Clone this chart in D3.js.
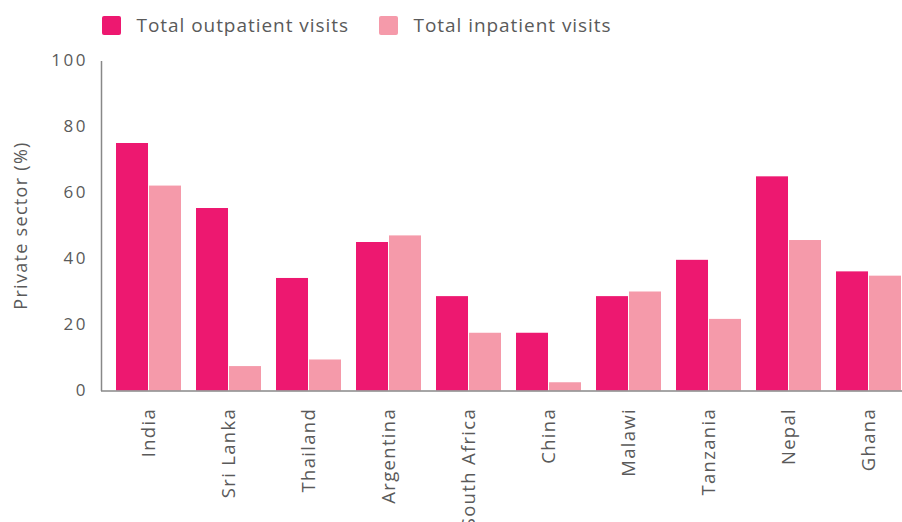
<!DOCTYPE html>
<html>
<head>
<meta charset="utf-8">
<script src="https://cdn.jsdelivr.net/npm/d3@7"></script>
<style>
  html, body { margin: 0; padding: 0; background: #fff; }
  svg { display: block; font-family: "Open Sans", sans-serif; }
</style>
</head>
<body>
<svg id="chart" width="902" height="522"></svg>
<script>
const countries = ["India", "Sri Lanka", "Thailand", "Argentina", "South Africa", "China", "Malawi", "Tanzania", "Nepal", "Ghana"];
const outpatient = [75.0, 55.3, 34.1, 45.0, 28.6, 17.5, 28.6, 39.6, 64.9, 36.1];
const inpatient = [62.1, 7.4, 9.4, 47.0, 17.5, 2.5, 30.0, 21.7, 45.6, 34.8];
const seriesNames = ["Total outpatient visits", "Total inpatient visits"];
const yTicks = [0, 20, 40, 60, 80, 100];
const colors = ["#ED1870", "#F59AAA"];
const textColor = "#5a5a5a";

const svg = d3.select("#chart");
const pLeft = 101, pRight = 901, pTop = 60.5, pBottom = 390.5;

const x0 = d3.scaleBand().domain(countries).range([pLeft, pRight])
  .paddingInner(0.1875).paddingOuter(0.09375).align(1);
const x1 = d3.scaleBand().domain([0, 1]).range([0, x0.bandwidth()]).paddingInner(0.03);
const y = d3.scaleLinear().domain([0, 100]).range([pBottom, pTop]);

const data = countries.map((c, i) => ({ c, vals: [outpatient[i], inpatient[i]] }));

const g = svg.append("g");
g.selectAll("g.grp").data(data).join("g").attr("class", "grp")
  .attr("transform", d => `translate(${x0(d.c)},0)`)
  .selectAll("rect").data(d => d.vals.map((v, k) => ({ v, k })))
  .join("rect")
  .attr("x", d => x1(d.k))
  .attr("width", x1.bandwidth())
  .attr("y", d => y(d.v))
  .attr("height", d => y(0) - y(d.v))
  .attr("fill", d => colors[d.k]);

// axes
const yAxis = svg.append("g").attr("transform", `translate(${pLeft},0)`)
  .call(d3.axisLeft(y).tickValues(yTicks).tickSize(0).tickPadding(13));
yAxis.select(".domain").attr("stroke", "#888").attr("stroke-width", 1.5);
yAxis.selectAll("text").attr("font-size", 17).attr("fill", textColor)
  .attr("letter-spacing", 2.5)
  .attr("font-family", "'Open Sans', sans-serif");

const xAxis = svg.append("g").attr("transform", `translate(0,${pBottom + 0.5})`)
  .call(d3.axisBottom(x0).tickSize(0).tickPadding(0));
xAxis.select(".domain").attr("d", `M${pLeft},0H902`).attr("stroke", "#888").attr("stroke-width", 1.5);
xAxis.selectAll("text")
  .attr("font-size", 18.5).attr("fill", textColor)
  .attr("letter-spacing", 1.3)
  .attr("font-family", "'Open Sans', sans-serif")
  .attr("text-anchor", "end")
  .attr("dy", null)
  .attr("transform", "translate(-1,17) rotate(-90)")
  .attr("x", 0).attr("y", 0)
  .attr("dominant-baseline", "central");

// y title
svg.append("text")
  .attr("transform", `translate(20,${(pTop + pBottom) / 2}) rotate(-90)`)
  .attr("text-anchor", "middle").attr("dominant-baseline", "central")
  .attr("font-size", 18).attr("fill", textColor)
  .attr("letter-spacing", 1.3)
  .text("Private sector (%)");

// legend
const legendX = [102, 379];
seriesNames.forEach((n, i) => {
  const lg = svg.append("g").attr("transform", `translate(${legendX[i]},16)`);
  lg.append("rect").attr("width", 19).attr("height", 19).attr("rx", 2).attr("fill", colors[i]);
  lg.append("text").attr("x", 34.5).attr("y", 9).attr("dominant-baseline", "central")
    .attr("font-size", 19).attr("fill", textColor)
    .attr("letter-spacing", 0.95).text(n);
});
</script>
</body>
</html>
